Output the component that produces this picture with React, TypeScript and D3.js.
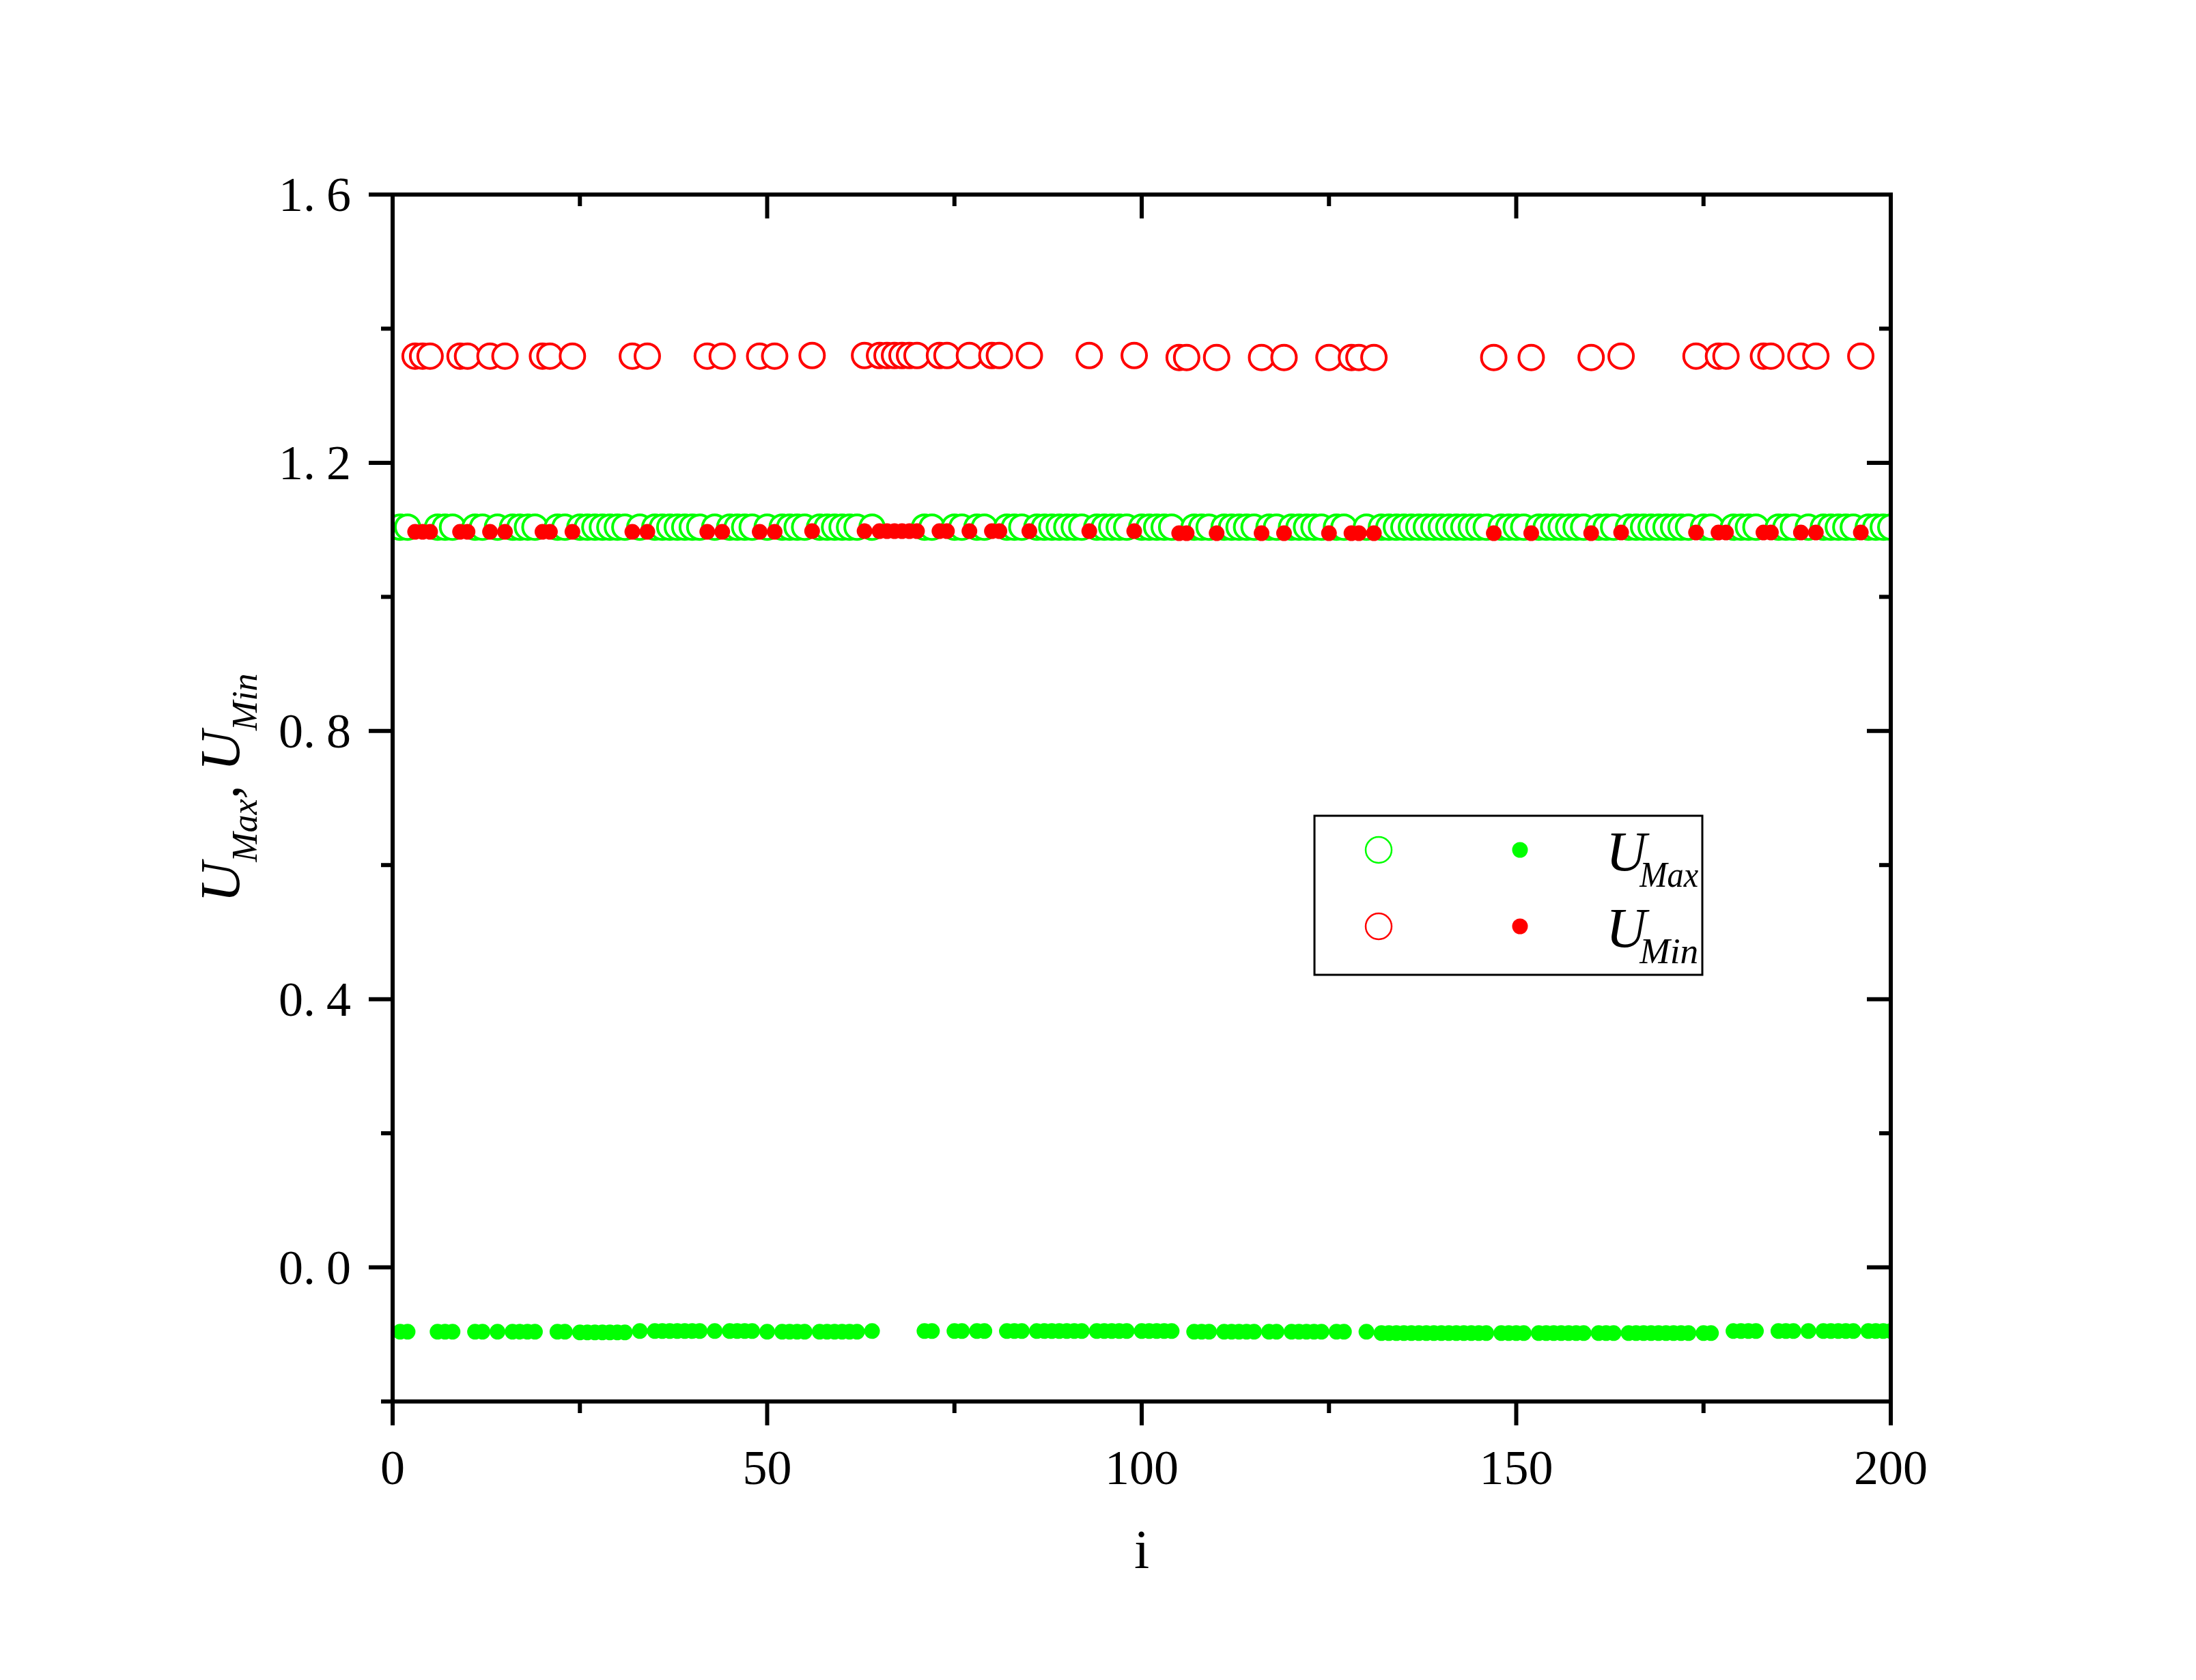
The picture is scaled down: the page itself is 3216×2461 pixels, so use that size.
import React from "react";
import * as d3 from "d3";

// ---- data ----
// indices i where the red attractor exists (all other i in 1..200 carry the green attractor)
const RED_I = [3, 4, 5, 9, 10, 13, 15, 20, 21, 24, 32, 34, 42, 44, 49, 51, 56, 63, 65, 66, 67, 68, 69, 70, 73, 74, 77, 80, 81, 85, 93, 99, 105, 106, 110, 116, 119, 125, 128, 129, 131, 147, 152, 160, 164, 174, 177, 178, 183, 184, 188, 190, 196];
const RED_MAX = [
  1.359, 1.359, 1.359, 1.359, 1.359, 1.359, 1.359, 1.359, 1.359, 1.359, 1.359, 1.359, 1.359, 1.359, 1.359, 1.359,
  1.36, 1.36, 1.36, 1.36, 1.36, 1.36, 1.36, 1.36, 1.36, 1.36, 1.36, 1.36, 1.36, 1.36, 1.36, 1.36,
  1.357, 1.357, 1.357, 1.357, 1.357, 1.357, 1.357, 1.357, 1.357, 1.357, 1.357, 1.357,
  1.359, 1.359, 1.359, 1.359, 1.359, 1.359, 1.359, 1.359, 1.359,
];
const RED_MIN = [
  1.097, 1.097, 1.097, 1.097, 1.097, 1.097, 1.097, 1.097, 1.097, 1.097, 1.097, 1.097, 1.097, 1.097, 1.097, 1.097,
  1.098, 1.098, 1.098, 1.098, 1.098, 1.098, 1.098, 1.098, 1.098, 1.098, 1.098, 1.098, 1.098, 1.098, 1.098, 1.098,
  1.095, 1.095, 1.095, 1.095, 1.095, 1.095, 1.095, 1.095, 1.095, 1.095, 1.095, 1.095,
  1.096, 1.096, 1.096, 1.096, 1.096, 1.096, 1.096, 1.096, 1.096,
];
// green levels by index range [from, to, value]
const GREEN_MAX_LEVELS: [number, number, number][] = [
  [1, 200, 1.104],
];
const GREEN_MIN_LEVELS: [number, number, number][] = [
  [1, 24, -0.096],
  [25, 31, -0.097],
  [33, 48, -0.095],
  [50, 62, -0.096],
  [64, 104, -0.095],
  [107, 131, -0.096],
  [132, 151, -0.098],
  [153, 176, -0.098],
  [179, 200, -0.095],
];
const X_TICKS = [0, 50, 100, 150, 200];
const X_MINOR = [25, 75, 125, 175];
const Y_TICKS = [0, 0.4, 0.8, 1.2, 1.6];
const Y_TICK_LABELS = ["0.0", "0.4", "0.8", "1.2", "1.6"];
const Y_MINOR = [-0.2, 0.2, 0.6, 1.0, 1.4];

const W = 3216;
const H = 2461;
const L = 575, R = 2769, T = 285, B = 2053;
const GREEN = "#00ff00";
const RED = "#ff0000";
const FONT = "'Liberation Serif', 'DejaVu Serif', serif";

const levelAt = (levels: [number, number, number][], i: number) => {
  const s = levels.find(([a, b]) => i >= a && i <= b);
  return s ? s[2] : levels[levels.length - 1][2];
};

export default function App() {
  const x = d3.scaleLinear().domain([0, 200]).range([L, R]);
  const y = d3.scaleLinear().domain([-0.2, 1.6]).range([B, T]);

  const greenI = d3.range(1, 201).filter((i) => !RED_I.includes(i));
  const green = greenI.map((i) => ({ i, max: levelAt(GREEN_MAX_LEVELS, i), min: levelAt(GREEN_MIN_LEVELS, i) }));
  const red = RED_I.map((i, k) => ({ i, max: RED_MAX[k], min: RED_MIN[k] }));

  const major = 35, minor = 17, sw = 6;

  return (
    <svg width={W} height={H} style={{ position: "absolute", left: 0, top: 0, background: "#fff" }} xmlns="http://www.w3.org/2000/svg">
      <rect x={0} y={0} width={W} height={H} fill="#fff" />
      <defs>
        <clipPath id="plotclip">
          <rect x={L} y={T} width={R - L} height={B - T} />
        </clipPath>
      </defs>
      <g clipPath="url(#plotclip)">
        {green.map((d) => (
          <circle key={"go" + d.i} cx={x(d.i)} cy={y(d.max)} r={18} fill="#fff" stroke={GREEN} strokeWidth={4} />
        ))}
        {green.map((d) => (
          <circle key={"gf" + d.i} cx={x(d.i)} cy={y(d.min)} r={11.5} fill={GREEN} />
        ))}
        {red.map((d) => (
          <circle key={"ro" + d.i} cx={x(d.i)} cy={y(d.max)} r={18} fill="#fff" stroke={RED} strokeWidth={4} />
        ))}
        {red.map((d) => (
          <circle key={"rf" + d.i} cx={x(d.i)} cy={y(d.min)} r={11.5} fill={RED} />
        ))}
      </g>

      {/* frame */}
      <rect x={L} y={T} width={R - L} height={B - T} fill="none" stroke="#000" strokeWidth={sw} />

      {/* x ticks: bottom outward, top inward */}
      {X_TICKS.map((t) => (
        <g key={"xt" + t}>
          <line x1={x(t)} x2={x(t)} y1={B} y2={B + major} stroke="#000" strokeWidth={sw} />
          <line x1={x(t)} x2={x(t)} y1={T} y2={T + major} stroke="#000" strokeWidth={sw} />
          <text x={x(t)} y={2174} fontFamily={FONT} fontSize={72} textAnchor="middle" fill="#000">{t}</text>
        </g>
      ))}
      {X_MINOR.map((t) => (
        <g key={"xm" + t}>
          <line x1={x(t)} x2={x(t)} y1={B} y2={B + minor} stroke="#000" strokeWidth={sw} />
          <line x1={x(t)} x2={x(t)} y1={T} y2={T + minor} stroke="#000" strokeWidth={sw} />
        </g>
      ))}

      {/* y ticks: left outward, right inward */}
      {Y_TICKS.map((t, k) => {
        const [a, b] = Y_TICK_LABELS[k].split(".");
        return (
          <g key={"yt" + t}>
            <line x1={L - major} x2={L} y1={y(t)} y2={y(t)} stroke="#000" strokeWidth={sw} />
            <line x1={R - major} x2={R} y1={y(t)} y2={y(t)} stroke="#000" strokeWidth={sw} />
            <text x={514} y={y(t) + 24} fontFamily={FONT} fontSize={72} textAnchor="end" fill="#000">
              <tspan>{a + "."}</tspan>
              <tspan dx={16}>{b}</tspan>
            </text>
          </g>
        );
      })}
      {Y_MINOR.map((t) => (
        <g key={"ym" + t}>
          <line x1={L - minor} x2={L} y1={y(t)} y2={y(t)} stroke="#000" strokeWidth={sw} />
          <line x1={R - minor} x2={R} y1={y(t)} y2={y(t)} stroke="#000" strokeWidth={sw} />
        </g>
      ))}

      {/* axis titles */}
      <text x={1672} y={2297} fontFamily={FONT} fontSize={80} textAnchor="middle" fill="#000">i</text>
      <text transform="translate(350,1322) rotate(-90)" fontFamily={FONT} fontSize={82} fontStyle="italic" fill="#000">
        <tspan>U</tspan>
        <tspan fontSize={52} dy={26}>Max</tspan>
        <tspan dy={-26}>, U</tspan>
        <tspan fontSize={52} dy={26}>Min</tspan>
      </text>

      {/* legend */}
      <rect x={1925} y={1195} width={568} height={233} fill="#fff" stroke="#000" strokeWidth={3} />
      <circle cx={2019} cy={1245} r={19} fill="none" stroke={GREEN} strokeWidth={2.5} />
      <circle cx={2226} cy={1245} r={11.5} fill={GREEN} />
      <text x={2352} y={1275} fontFamily={FONT} fontSize={82} fontStyle="italic" fill="#000">
        <tspan>U</tspan>
        <tspan fontSize={52} dx={-10} dy={24} textLength={86} lengthAdjust="spacingAndGlyphs">Max</tspan>
      </text>
      <circle cx={2019} cy={1357} r={19} fill="none" stroke={RED} strokeWidth={2.5} />
      <circle cx={2226} cy={1357} r={11.5} fill={RED} />
      <text x={2352} y={1387} fontFamily={FONT} fontSize={82} fontStyle="italic" fill="#000">
        <tspan>U</tspan>
        <tspan fontSize={52} dx={-10} dy={24} textLength={86} lengthAdjust="spacingAndGlyphs">Min</tspan>
      </text>
    </svg>
  );
}
